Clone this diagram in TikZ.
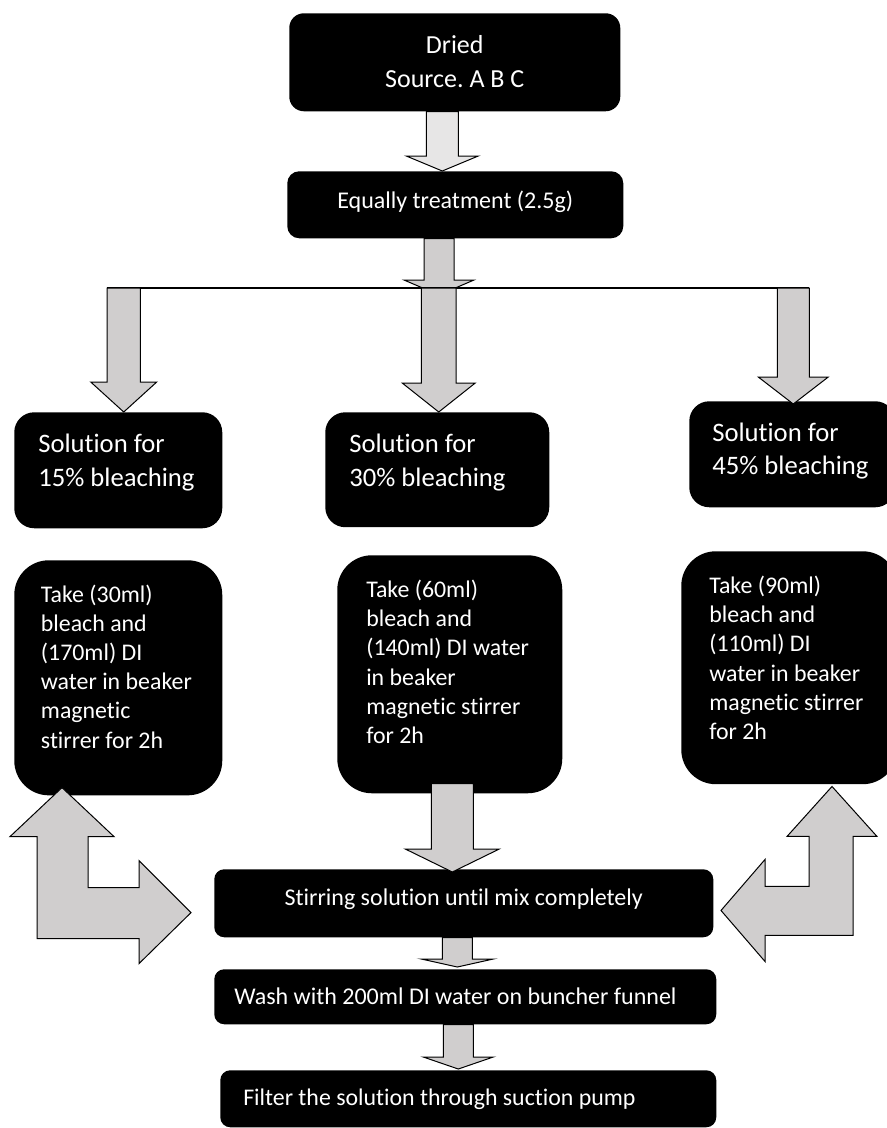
\documentclass[tikz,border=0pt]{standalone}
\usepackage{fontspec}
\setmainfont{Carlito}[Ligatures=CommonOff]
\usepackage{tikz}
\usetikzlibrary{calc}
\frenchspacing
\definecolor{arrowlight}{HTML}{E7E6E6}
\definecolor{arrowgray}{HTML}{D0CECE}
\pgfdeclarelayer{boxes_layer}
\pgfsetlayers{boxes_layer,main}
\tikzstyle{blackbox}=[fill=black,text=white,inner sep=0pt,anchor=north west]
\tikzstyle{process}=[blackbox,align=flush center]
\tikzstyle{solution}=[blackbox,align=flush left,rounded corners=15pt,inner xsep=18pt,font=\fontsize{20}{25}\selectfont]
\tikzstyle{take}=[blackbox,align=flush left,rounded corners=26pt,font=\fontsize{17.9}{21.9}\selectfont]
\tikzstyle{stage}=[blackbox,align=flush left,rounded corners=7.5pt]
\tikzstyle{blockarrow}=[draw=black,fill=arrowgray,line width=0.75pt]
\tikzstyle{branch}=[draw=black,line width=1pt]
% block arrow pointing down: [fill] start, tip, shaft half width, head half width, head length
\newcommand{\blockdown}[6][arrowgray]{%
  \path[blockarrow,fill=#1] let \p1=(#2), \p2=(#3) in
    (\x2-#4,\y1) -- (\x2-#4,\y2+#6) -- (\x2-#5,\y2+#6) -- (\x2,\y2) --
    (\x2+#5,\y2+#6) -- (\x2+#4,\y2+#6) -- (\x2+#4,\y1) -- cycle;}

\begin{document}
\begin{tikzpicture}[x=0.75pt,y=-0.75pt]
		\useasboundingbox (0,0) rectangle (886,1128);
		\begin{pgfonlayer}{boxes_layer}
			\node [style=process,rounded corners=11pt,text width=248.25pt,text height=30.2pt,text depth=43.3pt,font=\fontsize{19.5}{25.5}\selectfont] (dried) at (289,13) {Dried\\Source. A B C};
			\node [style=process,rounded corners=9pt,text width=252pt,text height=28pt,text depth=22.25pt,font=\fontsize{18}{20}\selectfont] (equally) at (287,171) {Equally treatment (2.5g)};
			\node [style=solution,text width=120pt,text height=30.5pt,text depth=56.5pt] (sol15) at (14,412) {Solution for\\15\% bleaching};
			\node [style=solution,text width=132pt,text height=30.5pt,text depth=55.7pt] (sol30) at (325,412) {Solution for\\30\% bleaching};
			\node [style=solution,inner xsep=17.25pt,text width=120pt,text height=29.8pt,text depth=49.7pt] (sol45) at (689,401) {Solution for\\45\% bleaching};
			\node [style=take,inner xsep=20pt,text width=116pt,text height=31.3pt,text depth=145pt] (take15) at (14,560) {Take (30ml)\\bleach and\\(170ml) DI\\water in beaker\\magnetic\\stirrer for 2h};
			\node [style=take,inner xsep=21.75pt,text width=125.25pt,text height=31.7pt,text depth=146.8pt] (take30) at (337,555) {Take (60ml)\\bleach and\\(140ml) DI water\\in beaker\\magnetic stirrer\\for 2h};
			\node [style=take,inner xsep=21pt,text width=120pt,text height=31.7pt,text depth=143pt] (take45) at (681,551) {Take (90ml)\\bleach and\\(110ml) DI\\water in beaker\\magnetic stirrer\\for 2h};
			\node [style=process,rounded corners=7.5pt,text width=374.25pt,text height=27.5pt,text depth=23.5pt,font=\fontsize{18}{22}\selectfont] (stirring) at (214,869) {Stirring solution until mix completely};
			\node [style=stage,inner xsep=15pt,text width=346.5pt,text height=26.5pt,text depth=14.75pt,font=\fontsize{18}{22}\selectfont] (wash) at (214,969) {Wash with 200ml DI water on buncher funnel};
			\node [style=stage,inner xsep=17.25pt,text width=337.5pt,text height=26.25pt,text depth=16.5pt,font=\fontsize{17.9}{22}\selectfont] (filter) at (220,1070) {Filter the solution through suction pump};
		\end{pgfonlayer}
		\coordinate (split) at (439,288);
		\coordinate (split_left) at (107,288);
		\coordinate (split_right) at (809,288);
		\blockdown[arrowlight]{dried.south}{[xshift=-9.75pt]equally.north}{12pt}{27pt}{11.25pt}
		\blockdown{equally.south}{[yshift=-5.25pt]split}{11.25pt}{26.25pt}{11.25pt}
		\path [style=branch] (split_left) -- (split_right);
		\blockdown{split_left}{[xshift=4.1pt]sol15.north}{12.4pt}{24.75pt}{22.5pt}
		\blockdown{split}{[xshift=1.1pt]sol30.north}{13.1pt}{27.4pt}{21.75pt}
		\blockdown{split_right}{[xshift=0.75pt,yshift=-2.25pt]sol45.north}{12pt}{26.25pt}{20.25pt}
		\blockdown{[yshift=7.5pt]take30.south}{[xshift=-8.6pt,yshift=-2.25pt]stirring.north}{15.75pt}{35.25pt}{17.25pt}
		\blockdown{stirring.south}{[xshift=-6pt,yshift=1.5pt]wash.north}{11.25pt}{27pt}{6pt}
		\blockdown{wash.south}{[xshift=-7.5pt,yshift=0.75pt]filter.north}{11.25pt}{26.25pt}{9pt}
		% bent arrows at the sides
		\coordinate (bend_left) at ([xshift=36pt,yshift=6pt]take15.south west);
		\coordinate (bend_right) at ([xshift=113.25pt,yshift=-1.5pt]take45.south west);
		\path [style=blockarrow] (bend_left) -- ++(52,49) -- ++(-26,0) -- ++(0,51) -- ++(51,0) -- ++(0,-27) -- ++(52,52) -- ++(-52,51) -- ++(0,-25) -- ++(-102,0) -- ++(0,-102) -- ++(-27,0) -- cycle;
		\path [style=blockarrow] (bend_right) -- ++(45,50) -- ++(-24,0) -- ++(0,99) -- ++(-88,0) -- ++(0,26) -- ++(-44,-51) -- ++(44,-51) -- ++(0,27) -- ++(44,0) -- ++(0,-50) -- ++(-22,0) -- cycle;
\end{tikzpicture}
\end{document}
